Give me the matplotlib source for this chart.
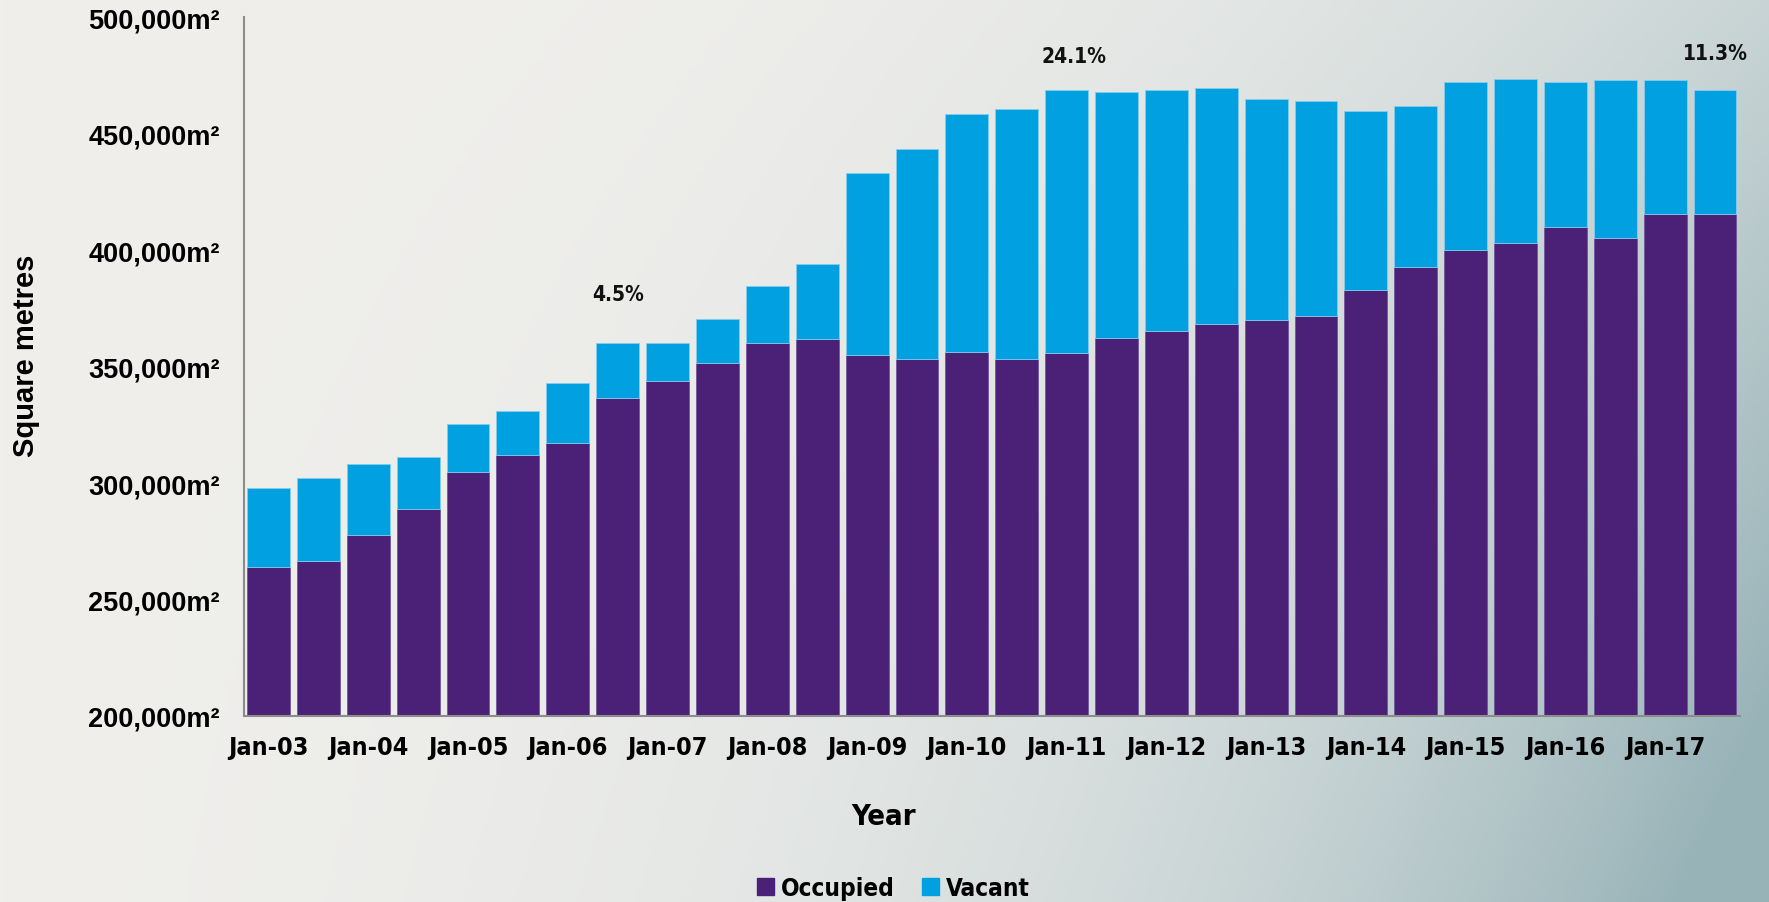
import numpy as np
import matplotlib
matplotlib.use('Agg')
import matplotlib.pyplot as plt
from matplotlib import font_manager as fm
from matplotlib.ticker import FuncFormatter
from matplotlib.patches import Patch

# half-yearly periods, Jan-03 .. Jul-17
periods = ['Jan-03', 'Jul-03', 'Jan-04', 'Jul-04', 'Jan-05', 'Jul-05', 'Jan-06', 'Jul-06',
           'Jan-07', 'Jul-07', 'Jan-08', 'Jul-08', 'Jan-09', 'Jul-09', 'Jan-10', 'Jul-10',
           'Jan-11', 'Jul-11', 'Jan-12', 'Jul-12', 'Jan-13', 'Jul-13', 'Jan-14', 'Jul-14',
           'Jan-15', 'Jul-15', 'Jan-16', 'Jul-16', 'Jan-17', 'Jul-17']

occupied = [264100, 266500, 277700, 288800, 304700, 312100, 317000, 336600, 343600, 351600,
            360200, 361900, 354800, 353200, 356200, 353400, 355900, 362400, 365400, 368200,
            370000, 371500, 383000, 392800, 400000, 403100, 409900, 405300, 415300, 415500]

vacant = [33600, 35800, 30300, 22200, 20600, 18700, 26000, 23400, 16400, 18600,
          24200, 32000, 78100, 90300, 102200, 107300, 112900, 105300, 103100, 101200,
          94700, 92300, 76800, 69000, 72000, 70300, 62300, 67800, 57700, 53200]

# vacancy rate call-outs: (bar position, text, height)
callouts = [(7, '4.5%', 381000), (16.15, '24.1%', 483300), (29, '11.3%', 484500)]

col_occ = '#4B2077'
col_vac = '#00A0E1'


def find_condensed():
    # look for any narrow / condensed bold face that is installed
    names = ['Liberation Sans Narrow', 'Roboto Condensed', 'Open Sans Condensed',
             'Noto Sans Condensed', 'DejaVu Sans Condensed', 'Noto Sans SemiCondensed']
    cands = []
    for f in fm.fontManager.ttflist:
        narrow = (f.name in names or 'Narrow' in f.name or 'Condensed' in f.name
                  or str(f.stretch) in ('condensed', 'semi-condensed', 'extra-condensed'))
        if not narrow:
            continue
        try:
            w = int(f.weight)
        except (TypeError, ValueError):
            w = 700 if 'bold' in str(f.weight).lower() else 400
        if f.style != 'normal':
            continue
        cands.append((abs(w - 700), f.fname))
    if cands:
        cands.sort()
        return cands[0][1]
    return None


cond_path = find_condensed()


def cond_font(size):
    if cond_path:
        return fm.FontProperties(fname=cond_path, size=size)
    return fm.FontProperties(family='Liberation Sans', weight='bold', size=size * 0.85,
                             stretch='condensed')


plain = ['Liberation Sans', 'DejaVu Sans']

fig = plt.figure(figsize=(17.69, 9.03), dpi=100)

# gradient background
bg = fig.add_axes([0, 0, 1, 1], zorder=-10)
gx, gy = np.meshgrid(np.linspace(0, 1, 400), np.linspace(0, 1, 200))
t = np.clip(gx ** 3 * (0.45 + 0.55 * gy) + 0.15 * gx * gy, 0, 1)
light = np.array([240, 239, 236]) / 255.0
dark = np.array([152, 179, 184]) / 255.0
img = light[None, None, :] * (1 - t[..., None]) + dark[None, None, :] * t[..., None]
bg.imshow(img, aspect='auto', extent=[0, 1, 0, 1], origin='upper')
bg.axis('off')

ax = fig.add_axes([0.1377, 0.206, 0.9836 - 0.1377, 0.980 - 0.206])
ax.patch.set_alpha(0)

x = np.arange(len(periods))
ax.bar(x, occupied, width=0.86, color=col_occ, edgecolor='#6C4E9A', linewidth=0.5)
ax.bar(x, vacant, width=0.86, bottom=occupied, color=col_vac, edgecolor='#86CDEF', linewidth=0.6)

ax.set_xlim(-0.5, len(periods) - 0.5)
ax.set_ylim(200000, 500000)
ax.set_yticks(np.arange(200000, 500001, 50000))
ax.yaxis.set_major_formatter(FuncFormatter(lambda v, p: '{:,.0f}m²'.format(v)))

ax.set_xticks(x[::2])
ax.set_xticklabels(periods[::2])

for lab in ax.get_yticklabels():
    lab.set_family(plain)
    lab.set_fontweight('bold')
    lab.set_fontsize(19.5)
for lab in ax.get_xticklabels():
    lab.set_fontproperties(cond_font(18))

ax.tick_params(axis='y', length=0, pad=17)
ax.tick_params(axis='x', length=0, pad=14)

for side in ['top', 'right']:
    ax.spines[side].set_visible(False)
for side in ['left', 'bottom']:
    ax.spines[side].set_color('#8C8C8C')
    ax.spines[side].set_linewidth(1.5)

for i, txt, h in callouts:
    ax.text(i, h, txt, ha='center', va='center', fontproperties=cond_font(15),
            color='#111111')

fig.text(0.0147, 0.606, 'Square metres', rotation=90, ha='center', va='center',
         fontsize=21, fontweight='bold', family=plain)
fig.text(0.4993, 0.095, 'Year', ha='center', va='center',
         fontproperties=cond_font(21))

handles = [Patch(color=col_occ, label='Occupied'), Patch(color=col_vac, label='Vacant')]
leg = fig.legend(handles=handles, loc='center', bbox_to_anchor=(0.505, 0.016), ncol=2,
                 frameon=False, handlelength=0.7, handleheight=0.7, handletextpad=0.3,
                 columnspacing=1.1, borderpad=0.1, prop=cond_font(17.5))

fig.savefig('out.png', dpi=100)
